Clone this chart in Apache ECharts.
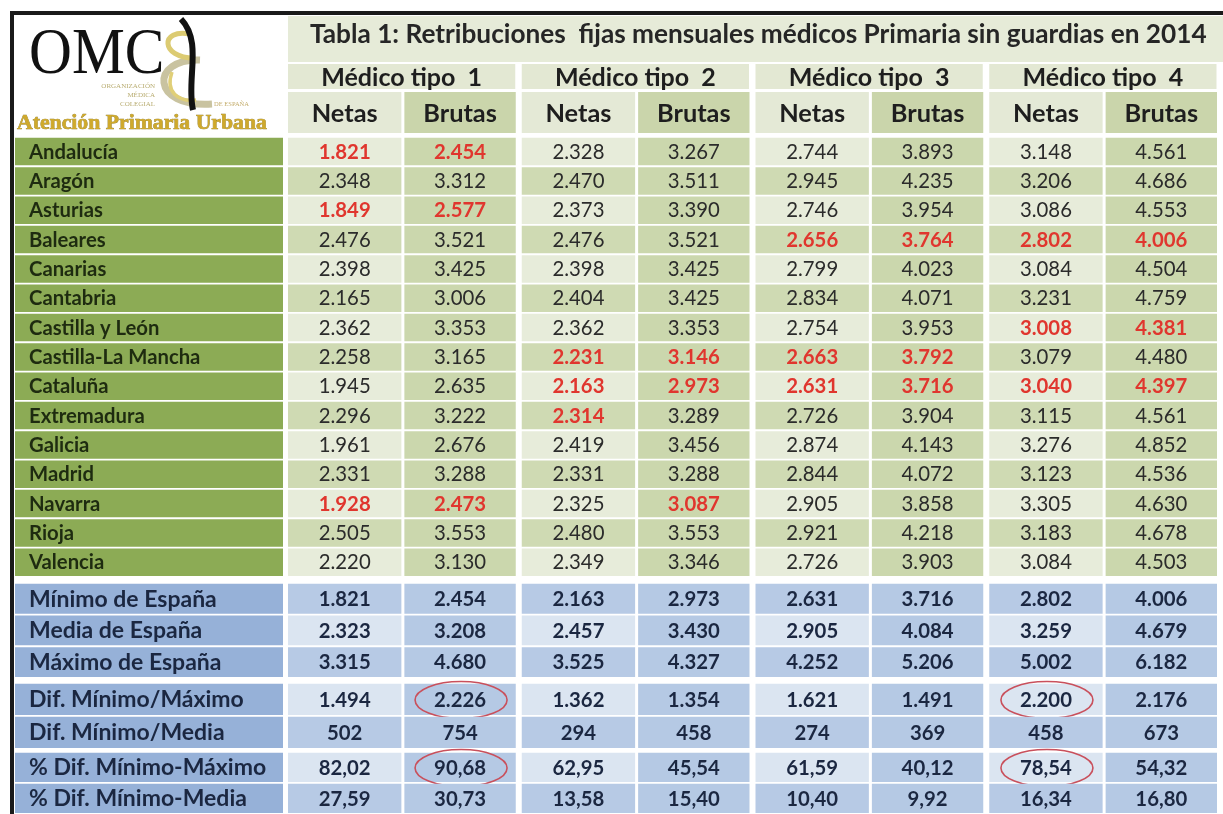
<!DOCTYPE html>
<html><head><meta charset="utf-8">
<script src="https://cdn.jsdelivr.net/npm/echarts@6/dist/echarts.min.js"></script>
<style>html,body{margin:0;padding:0;background:#fff;}#c{width:1223px;height:814px;}</style>
</head><body><div id="c"></div>
<script>
// ---------------- DATA ----------------
const tableTitle = 'Tabla 1: Retribuciones  fijas mensuales médicos Primaria sin guardias en 2014';
const medicoTypes = ['Médico tipo  1', 'Médico tipo  2', 'Médico tipo  3', 'Médico tipo  4'];
const subCols = ['Netas', 'Brutas', 'Netas', 'Brutas', 'Netas', 'Brutas', 'Netas', 'Brutas'];
const regions = ['Andalucía', 'Aragón', 'Asturias', 'Baleares', 'Canarias', 'Cantabria', 'Castilla y León',
  'Castilla-La Mancha', 'Cataluña', 'Extremadura', 'Galicia', 'Madrid', 'Navarra', 'Rioja', 'Valencia'];
// columns: N1, B1, N2, B2, N3, B3, N4, B4
const regionValues = [
  [1821, 2454, 2328, 3267, 2744, 3893, 3148, 4561],
  [2348, 3312, 2470, 3511, 2945, 4235, 3206, 4686],
  [1849, 2577, 2373, 3390, 2746, 3954, 3086, 4553],
  [2476, 3521, 2476, 3521, 2656, 3764, 2802, 4006],
  [2398, 3425, 2398, 3425, 2799, 4023, 3084, 4504],
  [2165, 3006, 2404, 3425, 2834, 4071, 3231, 4759],
  [2362, 3353, 2362, 3353, 2754, 3953, 3008, 4381],
  [2258, 3165, 2231, 3146, 2663, 3792, 3079, 4480],
  [1945, 2635, 2163, 2973, 2631, 3716, 3040, 4397],
  [2296, 3222, 2314, 3289, 2726, 3904, 3115, 4561],
  [1961, 2676, 2419, 3456, 2874, 4143, 3276, 4852],
  [2331, 3288, 2331, 3288, 2844, 4072, 3123, 4536],
  [1928, 2473, 2325, 3087, 2905, 3858, 3305, 4630],
  [2505, 3553, 2480, 3553, 2921, 4218, 3183, 4678],
  [2220, 3130, 2349, 3346, 2726, 3903, 3084, 4503]
];
// [row, col] of values printed in red
const redCells = [[0,0],[0,1],[2,0],[2,1],[3,4],[3,5],[3,6],[3,7],[6,6],[6,7],
  [7,2],[7,3],[7,4],[7,5],[8,2],[8,3],[8,4],[8,5],[8,6],[8,7],[9,2],[12,0],[12,1],[12,3]];
const statLabels = ['Mínimo de España', 'Media de España', 'Máximo de España'];
const statValues = [
  [1821, 2454, 2163, 2973, 2631, 3716, 2802, 4006],
  [2323, 3208, 2457, 3430, 2905, 4084, 3259, 4679],
  [3315, 4680, 3525, 4327, 4252, 5206, 5002, 6182]
];
const diffLabels = ['Dif. Mínimo/Máximo', 'Dif. Mínimo/Media'];
const diffValues = [
  [1494, 2226, 1362, 1354, 1621, 1491, 2200, 2176],
  [502, 754, 294, 458, 274, 369, 458, 673]
];
const pctLabels = ['% Dif. Mínimo-Máximo', '% Dif. Mínimo-Media'];
const pctValues = [
  [82.02, 90.68, 62.95, 45.54, 61.59, 40.12, 78.54, 54.32],
  [27.59, 30.73, 13.58, 15.40, 10.40, 9.92, 16.34, 16.80]
];
// [row, col] of circled values
const diffCircled = [[0,1],[0,6]];
const pctCircled = [[0,1],[0,6]];

// ---------------- HELPERS ----------------
const FONT = 'Lato, "Open Sans", sans-serif';
const SERIF = '"Liberation Serif", "DejaVu Serif", serif';
const ctx = document.createElement('canvas').getContext('2d');
function fit(text, weight, target, base, family) {
  ctx.font = weight + ' ' + base + 'px ' + (family || FONT);
  return base * target / ctx.measureText(text).width;
}
function fmtInt(v) { return String(Math.round(v)).replace(/\B(?=(\d{3})+(?!\d))/g, '.'); }
function fmtPct(v) { return v.toFixed(2).replace('.', ','); }

const titleSize = fit(tableTitle, 'bold', 897, 22);
const medicoSize = fit('Médico tipo  1', 'bold', 161, 24);
const subSize = fit('Netas', 'bold', 66, 24);
const valueSize = Math.min(21, fit('2.328', 'normal', 52, 20));
const greenLabelSize = Math.min(21, fit('Andalucía', 'bold', 89, 20));
const blueLabelSize = Math.min(23, fit('Mínimo de España', 'bold', 188, 21));
const apuSize = fit('Atención Primaria Urbana', 'bold', 250, 20, SERIF);

const themes = {
  green: { label: '#8cab55', light: '#e7ecda', dark: '#cfdab3', brutas: '#cbd7ad', text: '#2b2b2b',
           labelText: '#1e2b10', weight: 'normal', labelSize: greenLabelSize },
  blue: { label: '#96b1d8', light: '#dbe5f1', dark: '#b7cae5', brutas: '#b5c9e4', text: '#1b2741',
          labelText: '#1b2741', weight: 'bold', labelSize: blueLabelSize }
};

const DATA_LEFT = 288, DATA_W = 948, LABEL_LEFT = 15, LABEL_W = 268;
const sections = [
  { top: 137, height: 440, labels: regions, values: regionValues, theme: 'green', fmt: fmtInt, red: redCells, circles: [], lightFirst: true },
  { top: 583, height: 95, labels: statLabels, values: statValues, theme: 'blue', fmt: fmtInt, red: [], circles: [], lightFirst: false },
  { top: 683, height: 66, labels: diffLabels, values: diffValues, theme: 'blue', fmt: fmtInt, red: [], circles: diffCircled, lightFirst: true },
  { top: 752, height: 66, labels: pctLabels, values: pctValues, theme: 'blue', fmt: fmtPct, red: [], circles: pctCircled, lightFirst: true }
];

const grids = [], xAxes = [], yAxes = [], series = [];
function addGrid(left, top, width, height, xData, yData) {
  const i = grids.length;
  grids.push({ left, top, width, height, containLabel: false });
  xAxes.push({ type: 'category', gridIndex: i, data: xData, show: false });
  yAxes.push({ type: 'category', gridIndex: i, data: yData, show: false, inverse: true });
  return i;
}

// Header row: Médico tipo
const gMed = addGrid(DATA_LEFT, 64, DATA_W, 25, medicoTypes, ['m']);
series.push({
  type: 'custom', xAxisIndex: gMed, yAxisIndex: gMed, silent: true,
  data: medicoTypes.map((t, i) => [i, 0]),
  renderItem(params, api) {
    const c = api.coord([api.value(0), api.value(1)]);
    const s = api.size([1, 1]);
    const x0 = c[0] - s[0] / 2;
    return { type: 'group', children: [
      { type: 'rect', shape: { x: x0, y: c[1] - s[1] / 2, width: s[0] - 6.5, height: s[1] }, style: { fill: '#e3e8d3' } },
      { type: 'text', style: { x: x0 + (s[0] - 6.5) / 2, y: c[1] + 1, text: medicoTypes[params.dataIndex], align: 'center',
        verticalAlign: 'middle', fill: '#1e1e1e', fontFamily: FONT, fontWeight: 'bold', fontSize: medicoSize } }
    ]};
  }
});
// Header row: Netas / Brutas
const gSub = addGrid(DATA_LEFT, 92, DATA_W, 41, subCols, ['s']);
series.push({
  type: 'custom', xAxisIndex: gSub, yAxisIndex: gSub, silent: true,
  data: subCols.map((t, i) => [i, 0]),
  renderItem(params, api) {
    const col = api.value(0);
    const c = api.coord([col, 0]);
    const s = api.size([1, 1]);
    const isN = col % 2 === 0;
    const x0 = c[0] - s[0] / 2 + (isN ? 0 : -0.5);
    const w = isN ? s[0] - 3.5 : s[0] - 5.5;
    return { type: 'group', children: [
      { type: 'rect', shape: { x: x0, y: c[1] - s[1] / 2, width: w, height: s[1] }, style: { fill: isN ? '#e4e9d6' : '#cad5ab' } },
      { type: 'text', style: { x: x0 + w / 2, y: c[1] + 1, text: subCols[col], align: 'center', verticalAlign: 'middle',
        fill: '#1e1e1e', fontFamily: FONT, fontWeight: 'bold', fontSize: subSize } }
    ]};
  }
});

sections.forEach(sec => {
  const th = themes[sec.theme];
  const gl = addGrid(LABEL_LEFT, sec.top, LABEL_W, sec.height, ['label'], sec.labels);
  series.push({
    type: 'custom', xAxisIndex: gl, yAxisIndex: gl, silent: true,
    data: sec.labels.map((l, r) => [0, r]),
    renderItem(params, api) {
      const c = api.coord([0, api.value(1)]);
      const s = api.size([1, 1]);
      const x0 = c[0] - s[0] / 2, y0 = c[1] - s[1] / 2 + 0.8;
      return { type: 'group', children: [
        { type: 'rect', shape: { x: x0, y: y0, width: s[0], height: s[1] - 1.8 }, style: { fill: th.label } },
        { type: 'text', style: { x: x0 + 14, y: c[1] + 0.5, text: sec.labels[params.dataIndex], align: 'left', verticalAlign: 'middle',
          fill: th.labelText, fontFamily: FONT, fontWeight: 'bold', fontSize: th.labelSize } }
      ]};
    }
  });
  const gd = addGrid(DATA_LEFT, sec.top, DATA_W, sec.height, subCols, sec.labels);
  const items = [];
  sec.values.forEach((row, r) => row.forEach((v, col) => {
    const red = sec.red.some(p => p[0] === r && p[1] === col);
    const circ = sec.circles.some(p => p[0] === r && p[1] === col);
    items.push({ value: [col, r, v], red, circ });
  }));
  series.push({
    type: 'custom', xAxisIndex: gd, yAxisIndex: gd, silent: true,
    data: items.map(d => d.value),
    renderItem(params, api) {
      const it = items[params.dataIndex];
      const col = api.value(0), r = api.value(1);
      const c = api.coord([col, r]);
      const s = api.size([1, 1]);
      const isN = col % 2 === 0;
      const x0 = c[0] - s[0] / 2 + (isN ? 0 : -0.5);
      const w = isN ? s[0] - 3.5 : s[0] - 5.5;
      const y0 = c[1] - s[1] / 2 + 0.8;
      const light = (r % 2 === 0) === sec.lightFirst;
      const fill = isN ? (light ? th.light : th.dark) : th.brutas;
      const children = [
        { type: 'rect', shape: { x: x0, y: y0, width: w, height: s[1] - 1.8 }, style: { fill } },
        { type: 'text', style: { x: x0 + w / 2, y: c[1] + 0.5, text: sec.fmt(api.value(2)), align: 'center', verticalAlign: 'middle',
          fill: it.red ? '#e0362e' : th.text, fontFamily: FONT, fontWeight: it.red ? 'bold' : th.weight, fontSize: valueSize } }
      ];
      if (it.circ) {
        children.push({ type: 'ellipse', shape: { cx: x0 + w / 2 + 1, cy: c[1] + 0.5, rx: 46, ry: 18.5 },
          style: { fill: 'none', stroke: '#c9505c', lineWidth: 1.6 } });
      }
      return { type: 'group', children };
    }
  });
});

const option = {
  animation: false,
  backgroundColor: '#ffffff',
  grid: grids, xAxis: xAxes, yAxis: yAxes, series,
  graphic: [
    // title row
    { type: 'rect', shape: { x: DATA_LEFT, y: 16, width: 940, height: 46 }, style: { fill: '#e6ebd8' }, z: 1 },
    { type: 'text', x: 310, y: 35, style: { text: tableTitle, fill: '#262626', fontFamily: FONT, fontWeight: 'bold',
        fontSize: titleSize, verticalAlign: 'middle', align: 'left' }, z: 2 },
    // logo
    { type: 'text', x: 29, y: 56, scaleX: 0.9, style: { text: 'OMC', fill: '#111', fontFamily: SERIF,
        fontSize: 66, verticalAlign: 'middle', align: 'left' }, z: 2 },
    { type: 'text', x: 155, y: 86, style: { text: 'ORGANIZACIÓN', fill: '#b9ad72', fontFamily: SERIF, fontSize: 7, align: 'right', verticalAlign: 'middle' }, z: 2 },
    { type: 'text', x: 155, y: 95, style: { text: 'MÉDICA', fill: '#b9ad72', fontFamily: SERIF, fontSize: 7, align: 'right', verticalAlign: 'middle' }, z: 2 },
    { type: 'text', x: 155, y: 104, style: { text: 'COLEGIAL', fill: '#b9ad72', fontFamily: SERIF, fontSize: 7, align: 'right', verticalAlign: 'middle' }, z: 2 },
    { type: 'text', x: 214, y: 104, style: { text: 'DE ESPAÑA', fill: '#c4ad6c', fontFamily: SERIF, fontSize: 6.5, align: 'left', verticalAlign: 'middle' }, z: 2 },
    { type: 'bezierCurve', shape: { x1: 200, y1: 60, cpx1: 150, cpy1: 58, cpx2: 150, cpy2: 108, x2: 212, y2: 104 },
      style: { stroke: '#c9c3a0', lineWidth: 7, fill: 'none' }, z: 2 },
    { type: 'bezierCurve', shape: { x1: 190, y1: 34, cpx1: 160, cpy1: 28, cpx2: 160, cpy2: 58, x2: 194, y2: 58 },
      style: { stroke: '#dccb72', lineWidth: 5, fill: 'none' }, z: 2 },
    { type: 'bezierCurve', shape: { x1: 172, y1: 72, cpx1: 165, cpy1: 92, cpx2: 178, cpy2: 102, x2: 196, y2: 100 },
      style: { stroke: '#e0cf78', lineWidth: 3.5, fill: 'none' }, z: 2 },
    { type: 'bezierCurve', shape: { x1: 181, y1: 19, cpx1: 203, cpy1: 42, cpx2: 186, cpy2: 80, x2: 193, y2: 110 },
      style: { stroke: '#111', lineWidth: 6, fill: 'none' }, z: 3 },
    { type: 'text', x: 17, y: 123, style: { text: 'Atención Primaria Urbana', fill: '#cfa92c', stroke: '#8c7a2a', lineWidth: 0.6,
        fontFamily: SERIF, fontWeight: 'bold', fontSize: apuSize, align: 'left', verticalAlign: 'middle' }, z: 2 },
    // outer border
    { type: 'rect', shape: { x: 10, y: 11, width: 1213, height: 4 }, style: { fill: '#1a1a1a' }, z: 5 },
    { type: 'rect', shape: { x: 10, y: 11, width: 4, height: 803 }, style: { fill: '#1a1a1a' }, z: 5 }
  ]
};
echarts.init(document.getElementById('c')).setOption(option);
</script></body></html>
